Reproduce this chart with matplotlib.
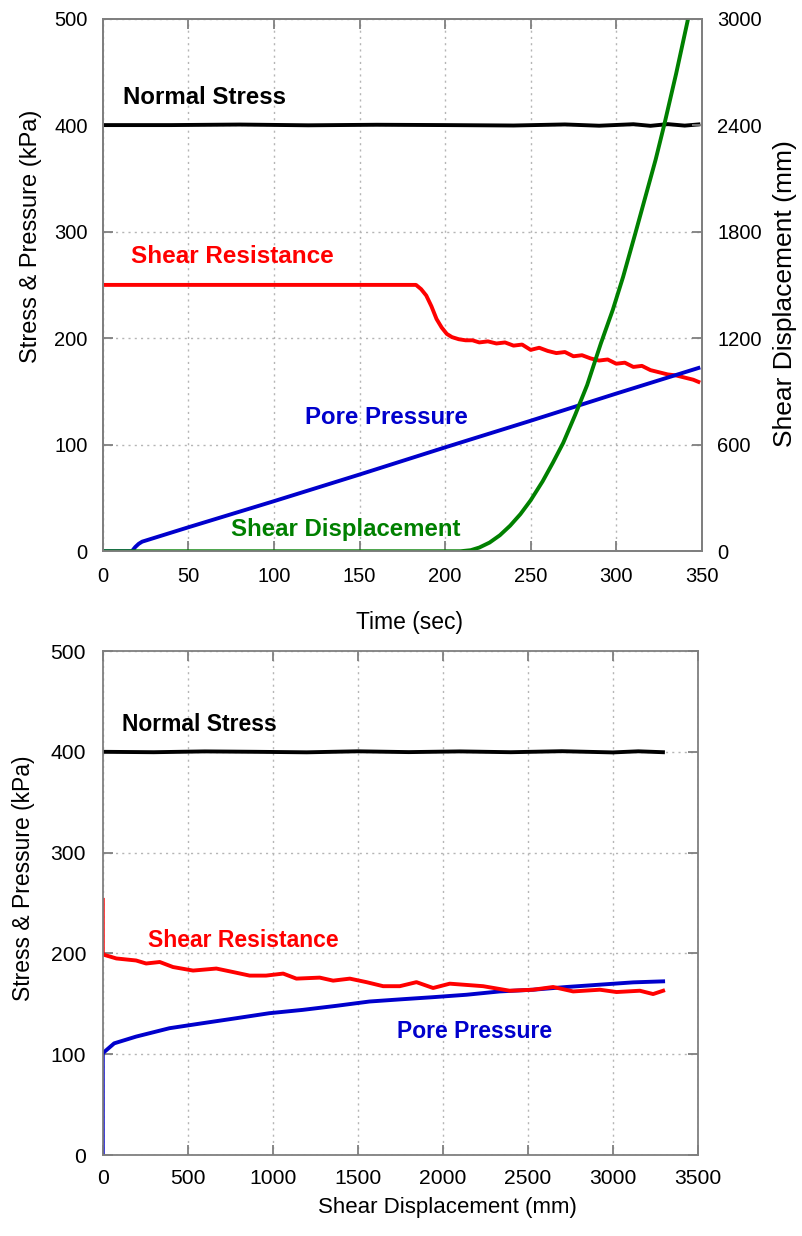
import matplotlib
matplotlib.use("Agg")
import matplotlib.pyplot as plt

plt.rcParams["font.family"] = ["Liberation Sans", "DejaVu Sans"]

# ---- top panel: time histories ----
t_ns = [0, 40, 80, 120, 160, 200, 240, 270, 290, 310, 320, 330, 340, 348]
normal_t = [400, 400, 400.5, 399.8, 400.3, 400, 399.6, 400.6, 399.4, 400.8, 399.3, 400.9, 399.5, 400.6]

t_sr = [0, 183, 186, 189, 192, 195, 198, 201, 204, 208, 212, 216, 220, 225, 230,
        235, 240, 245, 250, 255, 260, 265, 270, 275, 280, 285, 290, 295, 300,
        305, 310, 315, 320, 325, 330, 335, 340, 345, 348]
shear_t = [250, 250, 246, 240, 230, 218, 210, 204, 201, 199, 198, 198, 196, 197, 195,
           196, 193, 194, 189, 191, 188, 186, 187, 183, 184, 181, 179, 180, 176,
           177, 173, 174, 170, 168, 166, 165, 163, 161, 159]

t_pp = [0, 17, 19, 21, 23, 50, 100, 150, 200, 250, 300, 348]
pore_t = [0, 0, 4, 7, 9, 22.5, 47, 72, 97.5, 122.5, 148, 172]

t_sd = [0, 209, 215, 220, 226, 232, 238, 244, 250, 257, 263, 269, 276, 283, 291,
        298, 304, 311, 318, 323, 328, 335, 342]
disp_t = [0, 0, 6, 21, 49, 90, 144, 209, 287, 394, 499, 610, 768, 936, 1170,
          1360, 1545, 1785, 2030, 2205, 2400, 2690, 3000]

# ---- bottom panel: vs shear displacement ----
d_ns = [0, 300, 600, 900, 1200, 1500, 1800, 2100, 2400, 2700, 3000, 3150, 3295]
normal_d = [400, 399.6, 400.4, 400, 399.5, 400.5, 399.7, 400.4, 399.6, 400.6, 399.4, 400.5, 399.6]

d_sr = [0, 0, 20, 80, 196, 255, 335, 413, 531, 668, 767, 864, 960, 1061, 1139,
        1276, 1355, 1453, 1551, 1649, 1747, 1845, 1943, 2041, 2237, 2394, 2531,
        2649, 2767, 2924, 3022, 3159, 3237, 3296]
shear_d = [253, 199, 198, 195, 193, 190, 191.5, 186.5, 183, 185, 181.5, 178, 178, 180, 175,
           176, 173, 175, 171.5, 167.5, 167.5, 171.5, 165.7, 170, 167.5, 163, 164,
           166.7, 162.3, 164, 161.7, 163, 159.7, 163]

d_pp = [0, 0, 67, 196, 392, 588, 784, 980, 1176, 1373, 1569, 1765, 1943, 2139,
        2335, 2531, 2727, 2924, 3120, 3296]
pore_d = [0, 101, 110.8, 117.5, 125.8, 130.8, 135.7, 140.7, 144, 148, 152.3, 154.6,
          156.6, 159, 162.3, 164, 166.7, 169, 171.3, 172.3]

spine_c = "#7f7f7f"
LW = 2.8


def style(ax, size, xpad, ypad):
    for s in ax.spines.values():
        s.set_color(spine_c)
        s.set_linewidth(1.3)
    ax.tick_params(direction="in", length=7, width=1.3, color=spine_c,
                   labelsize=size)
    ax.tick_params(axis="x", pad=xpad)
    ax.tick_params(axis="y", pad=ypad)
    ax.grid(True, linestyle=(0, (1.5, 3)), color="#b5b5b5", linewidth=1)


fig = plt.figure(figsize=(8.03, 12.36), dpi=100)

# top: stress / pressure and displacement vs time
ax1 = fig.add_axes([0.128, 0.554, 0.746, 0.431])
style(ax1, 14.5, 11.5, 11)
ax1.tick_params(top=True)
ax1.plot(t_ns, normal_t, color="black", lw=LW)
ax1.plot(t_sr, shear_t, color="red", lw=LW)
ax1.plot(t_pp, pore_t, color="#0000cc", lw=LW)
ax1.set_xlim(0, 350)
ax1.set_ylim(0, 500)
ax1.set_xticks(range(0, 351, 50))
ax1.set_yticks(range(0, 501, 100))
ax1.set_xlabel("Time (sec)", fontsize=16.5, va="center")
ax1.xaxis.set_label_coords(0.5125, -0.133)
ax1.set_ylabel("Stress & Pressure (kPa)", fontsize=17, va="center")
ax1.yaxis.set_label_coords(-0.12, 0.591)

ax2 = ax1.twinx()
style(ax2, 14.5, 11.5, 11)
ax2.grid(False)
ax2.plot(t_sd, disp_t, color="#008000", lw=LW)
ax2.set_ylim(0, 3000)
ax2.set_yticks(range(0, 3001, 600))
ax2.set_ylabel("Shear Displacement (mm)", fontsize=19, va="center")
ax2.yaxis.set_label_coords(1.139, 0.484)

ax1.text(11.7, 426, "Normal Stress", color="black", fontsize=17.3,
         fontweight="bold", va="center", ha="left")
ax1.text(16.4, 277, "Shear Resistance", color="red", fontsize=17.5,
         fontweight="bold", va="center", ha="left")
ax1.text(118, 126, "Pore Pressure", color="#0000cc", fontsize=17.3,
         fontweight="bold", va="center", ha="left")
ax1.text(75, 20, "Shear Displacement", color="#008000", fontsize=17.3,
         fontweight="bold", va="center", ha="left")

# bottom: stress / pressure vs shear displacement
ax3 = fig.add_axes([0.128, 0.0655, 0.741, 0.4078])
style(ax3, 15.2, 10, 12)
ax3.tick_params(top=True, right=True)
ax3.plot(d_ns, normal_d, color="black", lw=LW)
ax3.plot(d_pp, pore_d, color="#0000cc", lw=LW)
ax3.plot(d_sr, shear_d, color="red", lw=LW)
ax3.set_xlim(0, 3500)
ax3.set_ylim(0, 500)
ax3.set_xticks(range(0, 3501, 500))
ax3.set_yticks(range(0, 501, 100))
ax3.set_xlabel("Shear Displacement (mm)", fontsize=16, va="center")
ax3.xaxis.set_label_coords(0.580, -0.104)
ax3.set_ylabel("Stress & Pressure (kPa)", fontsize=16.5, va="center")
ax3.yaxis.set_label_coords(-0.133, 0.55)

ax3.text(112, 427, "Normal Stress", color="black", fontsize=16.5,
         fontweight="bold", va="center", ha="left")
ax3.text(266, 213, "Shear Resistance", color="red", fontsize=16.5,
         fontweight="bold", va="center", ha="left")
ax3.text(1729, 123, "Pore Pressure", color="#0000cc", fontsize=16.5,
         fontweight="bold", va="center", ha="left")

fig.savefig("out.png", dpi=100)
